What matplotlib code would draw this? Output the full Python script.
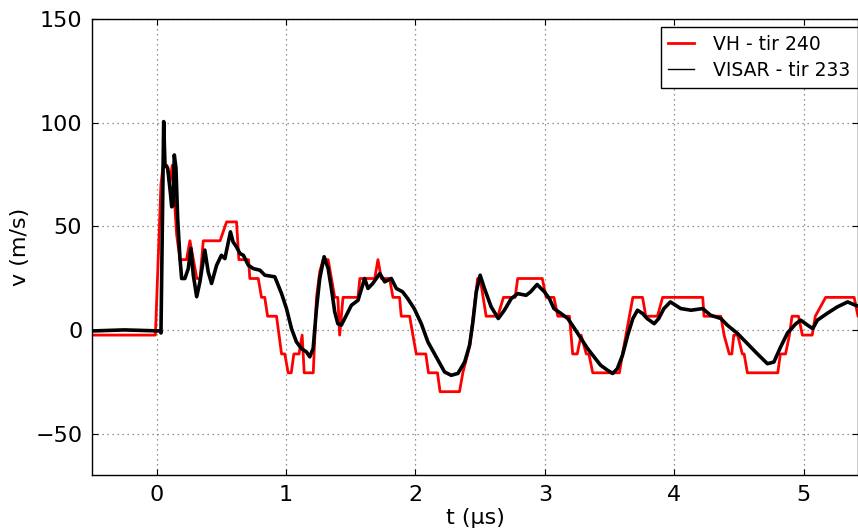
import matplotlib
matplotlib.use("Agg")
import matplotlib.pyplot as plt

# --- DATA ---
vh_t = [-0.5, -0.01, 0.033, 0.05, 0.08, 0.10, 0.12, 0.154, 0.18, 0.23, 0.257, 0.31,
        0.335, 0.36, 0.49, 0.54, 0.617, 0.635, 0.71, 0.72, 0.785, 0.81, 0.835, 0.857,
        0.926, 0.965, 0.99, 1.016, 1.04, 1.06, 1.10, 1.124, 1.14, 1.21, 1.235, 1.26,
        1.286, 1.325, 1.376, 1.40, 1.414, 1.44, 1.556, 1.57, 1.685, 1.71, 1.736, 1.80,
        1.826, 1.877, 1.89, 1.955, 1.98, 2.006, 2.08, 2.10, 2.17, 2.19, 2.34, 2.366,
        2.42, 2.48, 2.50, 2.546, 2.636, 2.68, 2.77, 2.79, 2.98, 3.01, 3.07, 3.10,
        3.19, 3.215, 3.25, 3.28, 3.32, 3.34, 3.37, 3.576, 3.60, 3.68, 3.755, 3.78,
        3.87, 3.91, 4.22, 4.23, 4.36, 4.385, 4.425, 4.445, 4.46, 4.49, 4.526, 4.54,
        4.565, 4.80, 4.82, 4.86, 4.89, 4.91, 4.96, 4.99, 5.066, 5.09, 5.17, 5.39,
        5.42, 5.45]
vh_v = [-2.5, -2.5, 70.3, 79.4, 79.4, 70.3, 79.4, 46.0, 33.9, 33.9, 43.0, 24.8,
        24.8, 43.0, 43.0, 52.1, 52.1, 33.9, 33.9, 24.8, 24.8, 15.7, 15.7, 6.6,
        6.6, -11.6, -11.6, -20.7, -20.7, -11.6, -11.6, -2.5, -20.7, -20.7, 15.7, 28.0,
        33.9, 33.9, 15.7, 15.7, -2.5, 15.7, 15.7, 24.8, 24.8, 33.9, 24.8, 24.8,
        15.7, 15.7, 6.6, 6.6, -2.5, -11.6, -11.6, -20.7, -20.7, -29.8, -29.8, -20.7,
        -7.4, 24.8, 24.8, 6.6, 6.6, 15.7, 15.7, 24.8, 24.8, 15.7, 15.7, 6.6,
        6.6, -11.6, -11.6, -2.5, -11.6, -11.6, -20.7, -20.7, -11.6, 15.7, 15.7, 6.6,
        6.6, 15.7, 15.7, 6.6, 6.6, -2.5, -11.6, -11.6, -2.5, -2.5, -11.6, -11.6,
        -20.7, -20.7, -11.6, -11.6, -2.5, 6.6, 6.6, -2.5, -2.5, 6.6, 15.7, 15.7,
        6.6, 6.6]

visar_t = [-0.5, -0.25, 0.0, 0.025, 0.033, 0.054, 0.064, 0.085, 0.106, 0.116, 0.126,
           0.136, 0.149, 0.162, 0.18, 0.193, 0.218, 0.244, 0.264, 0.283, 0.309, 0.334,
           0.372, 0.398, 0.424, 0.463, 0.5, 0.527, 0.57, 0.59, 0.617, 0.643, 0.67,
           0.708, 0.746, 0.798, 0.836, 0.913, 0.965, 1.003, 1.042, 1.08, 1.119, 1.157,
           1.183, 1.209, 1.235, 1.26, 1.294, 1.325, 1.35, 1.376, 1.40, 1.427, 1.466,
           1.505, 1.556, 1.607, 1.633, 1.67, 1.724, 1.762, 1.813, 1.852, 1.90, 1.94,
           1.99, 2.045, 2.096, 2.16, 2.225, 2.276, 2.328, 2.38, 2.418, 2.444, 2.47,
           2.50, 2.533, 2.585, 2.64, 2.687, 2.74, 2.79, 2.855, 2.89, 2.94, 2.996,
           3.035, 3.07, 3.125, 3.177, 3.23, 3.28, 3.33, 3.38, 3.43, 3.485, 3.524,
           3.56, 3.60, 3.64, 3.68, 3.716, 3.755, 3.79, 3.845, 3.88, 3.92, 3.97, 4.05,
           4.13, 4.22, 4.28, 4.36, 4.41, 4.49, 4.565, 4.64, 4.72, 4.77, 4.82, 4.875,
           4.94, 4.977, 5.03, 5.07, 5.106, 5.18, 5.26, 5.34, 5.40, 5.45]
visar_v = [-0.5, 0.0, -0.5, -0.5, -1.5, 100.5, 79.5, 78.0, 66.0, 59.4, 60.0,
           84.4, 78.0, 53.8, 34.4, 24.8, 24.8, 29.6, 39.3, 26.4, 16.0, 23.2,
           38.5, 28.0, 22.4, 31.2, 36.0, 34.4, 47.3, 42.5, 40.0, 36.9, 36.0,
           31.2, 29.6, 28.8, 26.4, 25.6, 17.5, 10.3, 0.6, -5.8, -9.0, -10.6,
           -13.0, -9.0, 10.3, 24.8, 35.3, 29.6, 20.0, 8.7, 3.0, 2.3, 7.1,
           11.9, 14.3, 24.8, 20.0, 22.4, 27.2, 23.2, 24.8, 20.0, 18.4, 15.1,
           10.3, 3.0, -5.8, -13.0, -20.3, -21.9, -21.0, -15.5, -7.4, 3.9, 18.4,
           26.4, 20.0, 11.1, 5.5, 9.5, 15.1, 17.5, 16.7, 18.4, 21.9, 18.4,
           15.1, 10.3, 7.9, 5.5, 0.6, -4.2, -9.0, -13.0, -17.0, -19.5, -21.0,
           -18.7, -12.2, -2.6, 5.5, 9.5, 7.9, 5.5, 3.0, 5.5, 10.3, 13.5, 10.3,
           9.5, 10.3, 7.1, 5.5, 2.3, -1.8, -6.6, -11.4, -16.3, -15.5, -8.5, -1.5,
           3.0, 4.7, 2.3, 0.6, 4.7, 7.9, 11.1, 13.5, 11.9, 11.0]

# --- PLOT ---
fig = plt.figure(figsize=(8.58, 5.32), dpi=100, facecolor='white')
ax = fig.add_axes([92 / 858, 1 - 475 / 532, 766 / 858, 456 / 532])

ax.plot(vh_t, vh_v, color='red', linewidth=2, label='VH - tir 240')
ax.plot(visar_t, visar_v, color='black', linewidth=2.6, label='VISAR - tir 233')

ax.set_xlim(-0.5, 5.42)
ax.set_ylim(-70, 150)
ax.set_xticks([0, 1, 2, 3, 4, 5])
ax.set_yticks([-50, 0, 50, 100, 150])
ax.set_xlabel('t (µs)', fontsize=16, labelpad=2)
ax.set_ylabel('v (m/s)', fontsize=16)
ax.tick_params(direction='in', top=True, right=True, labelsize=16, length=4, pad=7)
ax.grid(True, color='0.45', linestyle=(0, (1, 3)), linewidth=0.9)
for s in ax.spines.values():
    s.set_linewidth(1)

leg = ax.legend(loc='upper right', bbox_to_anchor=(1.0, 1 - 8 / 456), borderaxespad=0,
                fontsize=13.5, fancybox=False, framealpha=1, edgecolor='black',
                handlelength=1.35, handletextpad=1.05, borderpad=0.4, labelspacing=0.4)
leg.get_frame().set_linewidth(1)
leg.get_lines()[1].set_linewidth(1)

fig.savefig('out.png', dpi=100, facecolor='white')
